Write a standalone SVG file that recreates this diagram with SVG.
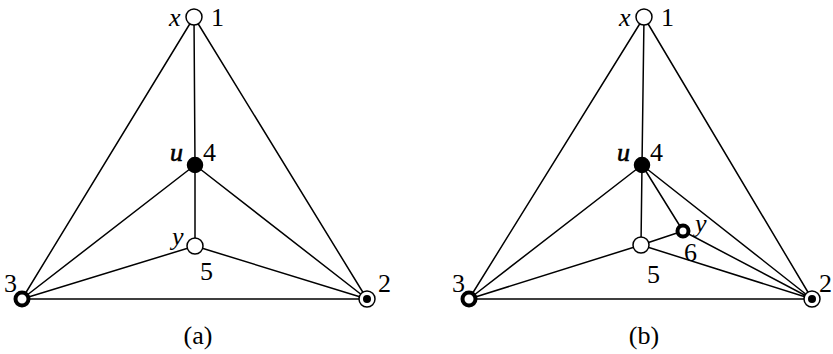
<svg xmlns="http://www.w3.org/2000/svg" width="833" height="354" viewBox="0 0 833 354">
<style>
.e{stroke:#000;stroke-width:1.5;fill:none}
.open{fill:#fff;stroke:#000;stroke-width:1.5}
.fill{fill:#000;stroke:#000;stroke-width:1.5}
.thick{fill:#fff;stroke:#000;stroke-width:4}
.dbl{fill:#fff;stroke:#000;stroke-width:1.5}
text{font-family:"Liberation Serif","Times New Roman",serif;font-size:26px;fill:#000}
.it{font-style:italic}
.u{font-style:italic;stroke:#000;stroke-width:0.6}
</style>
<rect width="833" height="354" fill="#fff"/>
<g id="connectors">
<path class="e" d="M194,17 L22,299 M194,17 L367,299 M194,17 L195,165 M22,299 L367,299 M22,299 L195,165 M195,165 L367,299 M195,165 L195,246 M22,299 L195,246 M195,246 L367,299"/>
<path class="e" d="M644,17 L469,299 M644,17 L812,299 M644,17 L642,165 M469,299 L812,299 M469,299 L642,165 M642,165 L812,299 M642,165 L641,245 M469,299 L641,245 M641,245 L812,299 M642,165 L683,231 M641,245 L683,231 M683,231 L812,299"/>
</g>
<g id="a1"><circle class="open" cx="194" cy="17" r="8"/><text class="it" x="169" y="26">x</text><text x="211" y="26">1</text></g>
<g id="a4"><circle class="fill" cx="195" cy="165" r="7.5"/><text class="u" x="170" y="161">u</text><text x="203" y="161">4</text></g>
<g id="a5"><circle class="open" cx="195" cy="246" r="8"/><text class="it" x="172" y="245">y</text><text x="200" y="280">5</text></g>
<g id="a3"><circle class="thick" cx="22" cy="299" r="6.5"/><text x="4" y="292">3</text></g>
<g id="a2"><circle class="dbl" cx="367" cy="299" r="8"/><circle cx="367" cy="299" r="4" fill="#000"/><text x="378" y="292">2</text></g>
<text x="198" y="344" text-anchor="middle">(a)</text>
<g id="b1"><circle class="open" cx="644" cy="17" r="8"/><text class="it" x="619" y="26">x</text><text x="661" y="26">1</text></g>
<g id="b4"><circle class="fill" cx="642" cy="165" r="7.5"/><text class="u" x="617" y="161">u</text><text x="650" y="161">4</text></g>
<g id="b5"><circle class="open" cx="641" cy="245" r="8"/><text x="647" y="283">5</text></g>
<g id="b6"><circle class="thick" cx="683" cy="231" r="5.5"/><text class="it" x="695" y="232">y</text><text x="684" y="261">6</text></g>
<g id="b3"><circle class="thick" cx="469" cy="299" r="6.5"/><text x="452" y="292">3</text></g>
<g id="b2"><circle class="dbl" cx="812" cy="299" r="8"/><circle cx="812" cy="299" r="4" fill="#000"/><text x="819" y="292">2</text></g>
<text x="644" y="344" text-anchor="middle">(b)</text>
</svg>
